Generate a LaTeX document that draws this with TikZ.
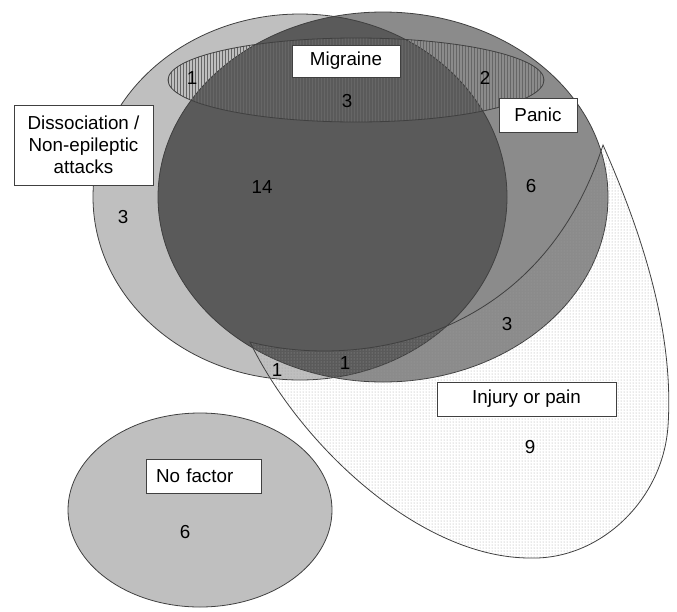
\documentclass[tikz,border=0pt]{standalone}
\usepackage{fontspec}
\setmainfont{Liberation Sans}
\usetikzlibrary{patterns}
\definecolor{dlight}{HTML}{BFBFBF}
\definecolor{pmed}{HTML}{8B8B8B}
\definecolor{pdark}{HTML}{5A5A5A}
\definecolor{edge}{HTML}{404040}
\begin{document}
\begin{tikzpicture}[x=1pt,y=-1pt,
  outl/.style={draw=edge, line width=0.8pt},
  lbl/.style={draw=edge, fill=white, line width=0.8pt, inner sep=0pt,
    font=\fontsize{18.8}{22}\selectfont},
  num/.style={inner sep=0pt, font=\fontsize{18.8}{22}\selectfont}]
\path[use as bounding box] (0,0) rectangle (677,611);
\coordinate (dc) at (300,197);
\coordinate (pc) at (383,197);
\coordinate (mc) at (356,80);
\coordinate (nc) at (200,510);
\coordinate (ia) at (250,342);
\coordinate (ib) at (603,145);
\coordinate (ic) at (668,426);
\coordinate (id) at (530,558);
% No factor
\draw[outl, fill=dlight] (nc) ellipse [x radius=132, y radius=97];
% Dissociation and Panic
\fill[dlight] (dc) ellipse [x radius=207, y radius=183];
\fill[pmed] (pc) ellipse [x radius=225, y radius=185];
\begin{scope}
  \clip (dc) ellipse [x radius=207, y radius=183];
  \fill[pdark] (pc) ellipse [x radius=225, y radius=185];
\end{scope}
\draw[outl] (dc) ellipse [x radius=207, y radius=183];
\draw[outl] (pc) ellipse [x radius=225, y radius=185];
% Migraine
\draw[outl, pattern=vertical lines, pattern color=black!60] (mc) ellipse [x radius=188, y radius=42];
% Injury or pain
\draw[outl, pattern=dots, pattern color=black!38]
  (ia) .. controls (360,370) and (540,340) .. (ib)
       .. controls (645,240) and (674,336) .. (ic)
       .. controls (663,500) and (600,560) .. (id)
       .. controls (420,558) and (300,445) .. (ia) -- cycle;
% labels
\node[lbl, minimum width=108pt, minimum height=32pt] (mig) at (346,61) {Migraine};
\node[lbl, minimum width=78pt, minimum height=34pt] (pan) at (538,115) {Panic};
\node[lbl, minimum width=139pt, minimum height=80pt, align=center] (dis) at (83.5,145) {Dissociation /\\Non-epileptic\\attacks};
\node[lbl, minimum width=179pt, minimum height=34pt] (inj) at (526.5,399) {Injury or pain};
\node[lbl, minimum height=34pt, text width=95pt, inner xsep=10pt, align=left] (nof) at (203.5,476) {No factor};
% numbers
\node[num] (n1) at (192,78) {1};
\node[num] (n2) at (485,78) {2};
\node[num] (n3) at (347,101) {3};
\node[num] (n14) at (262,187) {14};
\node[num] (n6) at (531,186) {6};
\node[num] (n3l) at (123,217) {3};
\node[num] (n3r) at (507,324) {3};
\node[num] (n1m) at (345,363) {1};
\node[num] (n1l) at (277,370) {1};
\node[num] (n9) at (530,447) {9};
\node[num] (n6n) at (185,532) {6};
\end{tikzpicture}
\end{document}
